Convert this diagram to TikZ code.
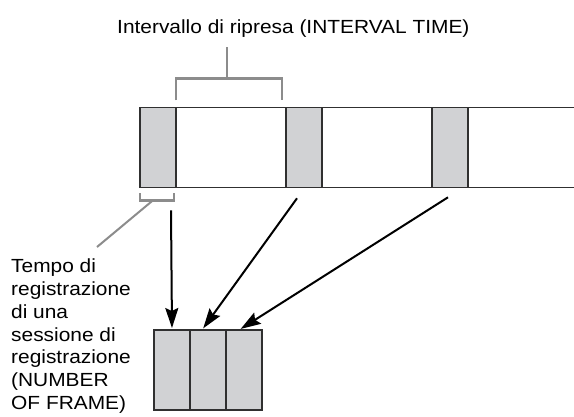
\documentclass[tikz,border=0pt]{standalone}
\usepackage{fontspec}
\setmainfont[FakeStretch=1.1]{Liberation Sans}
\usepackage{tikz}
\usetikzlibrary{positioning,arrows.meta}
\definecolor{cellgray}{HTML}{D1D2D4}
\definecolor{edgegray}{HTML}{303030}
\definecolor{markgray}{HTML}{8C8C8C}
\tikzset{
  shot/.style={draw=edgegray, line width=1.6pt, fill=cellgray, minimum width=36pt, minimum height=80pt, inner sep=0pt, outer sep=0pt},
  stripline/.style={draw=edgegray, line width=1.6pt},
  marker/.style={draw=markgray, line width=2.4pt},
  arrow/.style={-{Stealth[length=20pt,width=13pt,inset=3pt]}, line width=2pt, shorten >=2pt},
  caption/.style={inner sep=0pt, anchor=base west, align=left}
}

\begin{document}
\begin{tikzpicture}[x=1pt, y=-1pt, font=\fontsize{19}{22.8}\selectfont, node distance=110pt]
  \useasboundingbox (0,0) rectangle (574,416);

  % striscia con le riprese
  \draw[stripline] (574,107.3) -- (140,107.3) -- (140,187.3) -- (574,187.3);
  \node[shot] (shotA) at (158,147.3) {};
  \node[shot, right=of shotA] (shotB) {};
  \node[shot, right=of shotB] (shotC) {};

  % fotogrammi registrati
  \node[shot] (recA) at (172,370) {};
  \node[shot, right=0pt of recA] (recB) {};
  \node[shot, right=0pt of recB] (recC) {};

  \node[caption] (title) at (117,33) {Intervallo di ripresa (INTERVAL TIME)};
  \node[caption] (note) at (11,409.5) {Tempo di\\registrazione\\di una\\sessione di\\registrazione\\(NUMBER\\OF FRAME)};

  \draw[marker] ([yshift=7pt]shotA.north east) -- ++(0,-22) coordinate (braceL) -| ([xshift=-4pt,yshift=7pt]shotB.north west);
  \draw[marker] (braceL) ++(51,0) -- ++(0,-31);
  \draw[marker] ([yshift=-6pt]shotA.south west) -- ++(0,7) -- ++(34,0) -- ++(0,-7);
  \coordinate (leader) at (97,247);
  \draw[marker, line width=2pt] ([xshift=13pt,yshift=-13pt]shotA.south west) -- (leader);

  \draw[arrow] ([xshift=13pt,yshift=-23pt]shotA.south) -- (recA.north);
  \draw[arrow] ([xshift=-7pt,yshift=-11pt]shotB.south) -- ([xshift=12pt]recB.north west);
  \draw[arrow] ([xshift=-2pt,yshift=-10pt]shotC.south) -- ([xshift=13pt]recC.north west);
\end{tikzpicture}
\end{document}
